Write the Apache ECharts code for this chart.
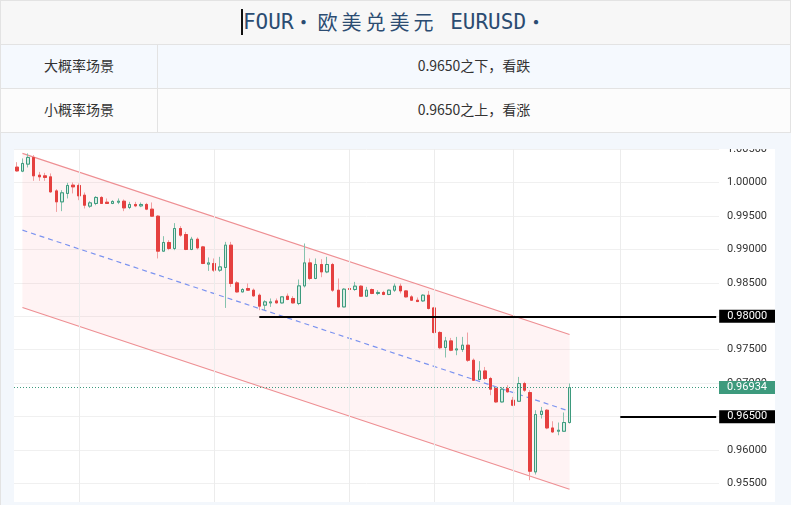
<!DOCTYPE html>
<html>
<head>
<meta charset="utf-8">
<script src="https://cdn.jsdelivr.net/npm/echarts@6/dist/echarts.min.js"></script>
<style>
html,body{margin:0;padding:0;width:791px;height:505px;overflow:hidden;background:#fff;font-family:"Noto Sans CJK SC","Noto Sans",sans-serif;}
.cell{position:absolute;box-sizing:border-box;display:flex;align-items:center;justify-content:center;color:#333;font-size:14px;padding-bottom:3px;}
#title{left:0;top:0;width:791px;height:45px;background:#f7f7f7;border:1px solid #e3e3e3;padding-bottom:2px;}
#ttxt{font-family:"DejaVu Sans Mono","Noto Sans CJK SC",monospace;font-size:21px;color:#2b4c72;white-space:pre;display:flex;align-items:center;}
#ttxt .cjk{font-family:"Noto Sans CJK SC";font-size:20px;letter-spacing:4px;}
#caret{display:inline-block;width:2px;height:26px;background:#111;}
#r1a{left:0;top:45px;width:158px;height:44px;background:#f5f9fe;border-right:1px solid #e3e3e3;border-bottom:1px solid #e3e3e3;border-left:1px solid #e3e3e3;}
#r1b{left:158px;top:45px;width:633px;height:44px;background:#f5f9fe;border-bottom:1px solid #e3e3e3;border-right:1px solid #e3e3e3;}
#r2a{left:0;top:89px;width:158px;height:44px;background:#fcfcfc;border-right:1px solid #e3e3e3;border-bottom:1px solid #e3e3e3;border-left:1px solid #e3e3e3;}
#r2b{left:158px;top:89px;width:633px;height:44px;background:#fcfcfc;border-bottom:1px solid #e3e3e3;border-right:1px solid #e3e3e3;}
#panel{position:absolute;left:0;top:133px;width:791px;height:372px;background:#f3f7fc;border-left:1px solid #e3e3e3;box-sizing:border-box;}
#plotwrap{position:absolute;left:14px;top:149px;width:761px;height:353px;overflow:hidden;background:#fff;}
#chart{position:absolute;left:0;top:0;width:761px;height:368px;}
</style>
</head>
<body>
<div id="title" class="cell"><div id="ttxt"><span id="caret"></span>FOUR<span class="cjk">・欧美兑美元</span> EURUSD<span class="cjk">・</span></div></div>
<div id="r1a" class="cell">大概率场景</div>
<div id="r1b" class="cell">0.9650之下，看跌</div>
<div id="r2a" class="cell">小概率场景</div>
<div id="r2b" class="cell">0.9650之上，看涨</div>
<div id="panel"></div>
<div id="plotwrap"><div id="chart"></div></div>
<script>
// ---- data ----
const slotCount = 125;
const categories = Array.from({length: slotCount}, (_, i) => String(i + 1));

const opens = [1.00229,1.00169,1.00274,1.00374,1.00109,1.00099,1.00084,0.99874,0.99710,0.99836,
0.99960,0.99955,0.99810,0.99646,0.99686,0.99776,0.99705,0.99686,0.99705,0.99720,
0.99626,0.99671,0.99650,0.99671,0.99601,0.99496,0.98973,0.99103,0.99013,0.99312,
0.99222,0.98998,0.99152,0.99037,0.98779,0.98789,0.98689,0.98729,0.99063,0.98499,
0.98364,0.98415,0.98390,0.98315,0.98166,0.98200,0.98230,0.98200,0.98300,0.98266,
0.98191,0.98454,0.98798,0.98565,0.98774,0.98663,0.98774,0.98390,0.98140,0.98415,
0.98400,0.98450,0.98300,0.98400,0.98341,0.98356,0.98326,0.98390,0.98450,0.98379,
0.98290,0.98240,0.98230,0.98315,0.98125,0.97758,0.97533,0.97632,0.97497,0.97503,
0.97568,0.97343,0.97055,0.97183,0.97070,0.96920,0.96720,0.96920,0.96745,0.96730,
0.96995,0.96860,0.95674,0.96532,0.96596,0.96331,0.96282,0.96282,0.96412];
const closes = [1.00173,1.00284,1.00374,1.00099,1.00084,1.00075,0.99859,0.99710,0.99845,0.99955,
0.99934,0.99800,0.99660,0.99695,0.99776,0.99686,0.99686,0.99716,0.99720,0.99620,
0.99671,0.99650,0.99671,0.99601,0.99496,0.98973,0.99103,0.99013,0.99312,0.99212,
0.98998,0.99152,0.99022,0.98789,0.98798,0.98689,0.98738,0.99063,0.98490,0.98364,
0.98400,0.98390,0.98305,0.98151,0.98215,0.98215,0.98200,0.98290,0.98251,0.98200,
0.98454,0.98798,0.98565,0.98774,0.98663,0.98774,0.98390,0.98140,0.98405,0.98400,
0.98450,0.98300,0.98390,0.98341,0.98356,0.98326,0.98390,0.98450,0.98379,0.98290,
0.98240,0.98220,0.98315,0.98116,0.97758,0.97530,0.97632,0.97493,0.97512,0.97568,
0.97343,0.97044,0.97183,0.97070,0.96910,0.96720,0.96910,0.96870,0.96670,0.96995,
0.96895,0.95684,0.96532,0.96581,0.96331,0.96271,0.96297,0.96412,0.96934];
const lows = [1.00161,1.00154,1.00224,1.00024,1.00024,1.00024,0.99848,0.99560,0.99571,0.99761,
0.99836,0.99735,0.99611,0.99620,0.99660,0.99680,0.99680,0.99676,0.99676,0.99571,
0.99601,0.99631,0.99631,0.99586,0.99486,0.98864,0.98966,0.98988,0.98988,0.99187,
0.98988,0.98988,0.98998,0.98779,0.98678,0.98663,0.98663,0.98125,0.98439,0.98353,
0.98358,0.98380,0.98290,0.98091,0.98091,0.98140,0.98191,0.98191,0.98240,0.98191,
0.98166,0.98430,0.98539,0.98554,0.98584,0.98644,0.98364,0.98135,0.98135,0.98380,
0.98380,0.98290,0.98290,0.98330,0.98315,0.98315,0.98315,0.98364,0.98341,0.98280,
0.98230,0.98215,0.98215,0.98101,0.97743,0.97508,0.97384,0.97478,0.97418,0.97467,
0.97318,0.97034,0.97044,0.97044,0.96820,0.96705,0.96711,0.96860,0.96656,0.96720,
0.96870,0.95550,0.95635,0.96472,0.96312,0.96257,0.96222,0.96271,0.96397];
const highs = [1.00303,1.00359,1.00434,1.00408,1.00158,1.00144,1.00135,0.99900,0.99885,0.99994,
1.00000,0.99985,0.99850,0.99720,0.99795,0.99795,0.99761,0.99735,0.99761,0.99746,
0.99710,0.99710,0.99701,0.99695,0.99701,0.99511,0.99197,0.99137,0.99392,0.99347,
0.99261,0.99187,0.99178,0.99052,0.98879,0.98864,0.98888,0.99112,0.99112,0.98525,
0.98420,0.98490,0.98415,0.98340,0.98240,0.98266,0.98266,0.98300,0.98340,0.98300,
0.98550,0.99088,0.98864,0.98864,0.98853,0.98888,0.98798,0.98565,0.98420,0.98490,
0.98514,0.98465,0.98439,0.98415,0.98390,0.98380,0.98400,0.98490,0.98490,0.98390,
0.98315,0.98281,0.98330,0.98379,0.98140,0.97777,0.97692,0.97677,0.97692,0.97692,
0.97757,0.97369,0.97329,0.97243,0.97094,0.96944,0.96944,0.96970,0.96795,0.97094,
0.97020,0.96895,0.96596,0.96645,0.96611,0.96431,0.96412,0.96562,0.96995];

// channel (regression band) endpoints
const channelIdx = [1, 98];
const channelUpper = [1.00434, 0.97728];
const channelLower = [0.98131, 0.95415];
const channelMid = [0.99287, 0.96581];

// key levels
const level1 = 0.98, level1Start = 43;
const level2 = 0.965, level2Start = 107;
const lastPrice = 0.96934;

// vertical (session) grid line slots
const vGridIdx = [11, 35, 59, 74, 88, 107];

// y axis
const yMin = 0.95, yMax = 1.005, yStep = 0.005;

// ---- chart ----
const chart = echarts.init(document.getElementById('chart'), null, {renderer: 'canvas'});
const fullData = opens.map((o, i) => [o, closes[i], lows[i], highs[i]]);
const bodyData = opens.map((o, i) => [o, closes[i], Math.min(o, closes[i]), Math.max(o, closes[i])]);
const lastSlot = slotCount - 1;
const tagLabel = (bg, v, dist) => ({
  show: true, position: 'end', formatter: v.toFixed(5),
  backgroundColor: bg, color: '#fff', fontSize: 11, fontFamily: 'Roboto',
  padding: [1, 8, 0, 8], lineHeight: 12, distance: dist
});

chart.setOption({
  animation: false,
  grid: {left: 0, right: 56, top: 0, bottom: 0, outerBoundsMode: 'none', containLabel: false},
  xAxis: {
    type: 'category', data: categories, boundaryGap: true,
    axisLine: {show: false}, axisTick: {show: false}, axisLabel: {show: false},
    splitLine: {show: false}
  },
  yAxis: {
    type: 'value', position: 'right', min: yMin, max: yMax, interval: yStep,
    axisLine: {show: false}, axisTick: {show: false},
    axisLabel: {formatter: (v) => v.toFixed(5), color: '#333', fontSize: 11, fontFamily: 'Roboto', margin: 8},
    splitLine: {show: true, lineStyle: {color: '#f0f0f0', width: 1}}
  },
  series: [
    {
      type: 'custom', z: 1, silent: true,
      data: [[channelIdx[0], channelUpper[0]]],
      renderItem: (params, api) => ({
        type: 'polygon',
        shape: {points: [
          api.coord([channelIdx[0], channelUpper[0]]),
          api.coord([channelIdx[1], channelUpper[1]]),
          api.coord([channelIdx[1], channelLower[1]]),
          api.coord([channelIdx[0], channelLower[0]])
        ]},
        style: {fill: 'rgba(255,90,100,0.07)'}
      }),
      markLine: {
        silent: true, symbol: 'none', label: {show: false},
        lineStyle: {color: '#ececec', width: 1, type: 'solid'},
        data: vGridIdx.map(i => ({xAxis: categories[i]}))
      }
    },
    {
      type: 'line', z: 2, silent: true, symbol: 'none',
      data: channelIdx.map((x, i) => [x, channelUpper[i]]),
      lineStyle: {color: '#ee8f93', width: 1.2}
    },
    {
      type: 'line', z: 2, silent: true, symbol: 'none',
      data: channelIdx.map((x, i) => [x, channelLower[i]]),
      lineStyle: {color: '#ee8f93', width: 1.2}
    },
    {
      type: 'line', z: 2, silent: true, symbol: 'none',
      data: channelIdx.map((x, i) => [x, channelMid[i]]),
      lineStyle: {color: '#7b93f0', width: 1.2, type: [5, 4]}
    },
    {
      type: 'candlestick', z: 3, silent: true, barWidth: 3,
      data: fullData,
      itemStyle: {color: '#d5ede5', color0: '#f1a0a2', borderColor: '#86c3ae', borderColor0: '#f1a0a2', borderWidth: 1}
    },
    {
      type: 'candlestick', z: 4, silent: true, barWidth: 3,
      data: bodyData,
      itemStyle: {color: '#d5ede5', color0: '#e5403f', borderColor: '#3d9a7d', borderColor0: '#e5403f', borderWidth: 1},
      markLine: {
        silent: true, symbol: 'none', z: 10, precision: 5,
        data: [
          [
            {coord: [categories[level1Start], level1], lineStyle: {color: '#000', width: 2, type: 'solid'}, label: tagLabel('#000', level1, 3)},
            {coord: [categories[lastSlot], level1]}
          ],
          [
            {coord: [categories[level2Start], level2], lineStyle: {color: '#000', width: 2, type: 'solid'}, label: tagLabel('#000', level2, 3)},
            {coord: [categories[lastSlot], level2]}
          ],
          {yAxis: lastPrice, lineStyle: {color: '#3d9a7d', width: 1, type: [1, 2]},
           label: tagLabel('#3d9a7d', lastPrice, 0)}
        ]
      }
    }
  ]
});
</script>
</body>
</html>
